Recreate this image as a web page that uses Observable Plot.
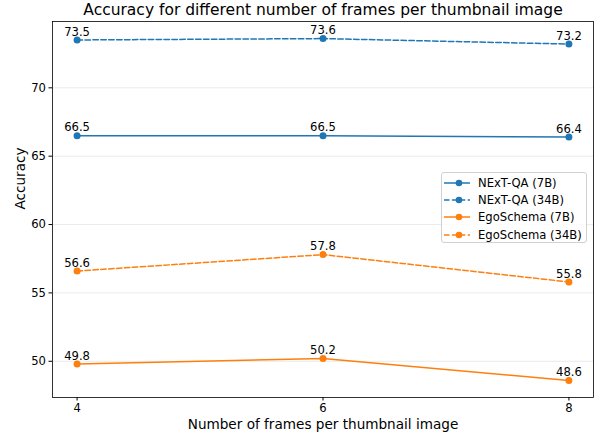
<!DOCTYPE html>
<html>
<head>
<meta charset="utf-8">
<script src="https://cdn.jsdelivr.net/npm/d3@7"></script>
<script src="https://cdn.jsdelivr.net/npm/@observablehq/plot@0.6"></script>
<style>
  html, body { margin: 0; padding: 0; background: #fff; }
  #wrap { position: relative; width: 601px; height: 433px; font-family: "DejaVu Sans", sans-serif; }
  #legend { position: absolute; left: 441px; top: 172px; width: 146px; height: 71px; border: 1px solid #d0d0d0; border-radius: 3px; background: rgba(255,255,255,0.8); box-sizing: border-box; padding-top: 1px; }
  .row { height: 17.4px; display: flex; align-items: center; font-size: 11.6px; color: #000; white-space: nowrap; }
  .row svg { margin-left: 1px; margin-right: 7px; }
</style>
</head>
<body>
<div id="wrap"></div>
<script>
const titleText = "Accuracy for different number of frames per thumbnail image";
const xLabel = "Number of frames per thumbnail image";
const yLabel = "Accuracy";
const frames = [4, 6, 8];
const yTicks = [50, 55, 60, 65, 70];
const seriesNames = ["NExT-QA (7B)", "NExT-QA (34B)", "EgoSchema (7B)", "EgoSchema (34B)"];
const seriesColors = ["#1f77b4", "#1f77b4", "#ff7f0e", "#ff7f0e"];
const seriesDashed = [false, true, false, true];
const nextqa7b = [66.5, 66.5, 66.4];
const nextqa34b = [73.5, 73.6, 73.2];
const ego7b = [49.8, 50.2, 48.6];
const ego34b = [56.6, 57.8, 55.8];
const seriesValues = [nextqa7b, nextqa34b, ego7b, ego34b];

const data = [];
seriesNames.forEach((s, i) => {
  frames.forEach((f, j) => data.push({series: s, idx: i, frames: f, acc: seriesValues[i][j]}));
});

const lineMarks = seriesNames.map((s, i) =>
  Plot.line(data.filter(d => d.series === s), {
    x: "frames", y: "acc", stroke: seriesColors[i], strokeWidth: 1.5,
    strokeDasharray: seriesDashed[i] ? "5.5,2.4" : null
  })
);

const chart = Plot.plot({
  width: 601,
  height: 433,
  marginLeft: 52,
  marginRight: 8,
  marginTop: 21,
  marginBottom: 36,
  style: {fontFamily: "DejaVu Sans, sans-serif", fontSize: "11.6px", color: "#000", background: "#fff", overflow: "visible"},
  x: {domain: [3.8, 8.2]},
  y: {domain: [47.35, 74.85]},
  marks: [
    Plot.gridY(yTicks, {stroke: "#e6e6e6", strokeOpacity: 1, strokeWidth: 0.8}),
    ...lineMarks,
    Plot.dot(data, {x: "frames", y: "acc", r: 3.5, fill: d => seriesColors[d.idx], stroke: "none"}),
    Plot.text(data, {x: "frames", y: "acc", text: d => d.acc.toFixed(1), dy: -8, lineAnchor: "middle", fill: "#000", fontSize: 11.6}),
    Plot.frame({stroke: "#000", strokeWidth: 0.8}),
    Plot.axisX(frames, {tickSize: 3.5, tickPadding: 3, tickFormat: d => String(d), label: null}),
    Plot.axisY(yTicks, {tickSize: 3.5, tickPadding: 3, label: null}),
    Plot.text([xLabel], {frameAnchor: "bottom", lineAnchor: "middle", dy: 27, fontSize: 13.6, fill: "#000"}),
    Plot.text([yLabel], {frameAnchor: "left", lineAnchor: "middle", rotate: -90, dx: -32, fontSize: 13.6, fill: "#000"}),
    Plot.text([titleText], {frameAnchor: "top", lineAnchor: "middle", dy: -11, fontSize: 15.5, fill: "#000"})
  ]
});

const wrap = document.getElementById("wrap");
wrap.appendChild(chart);

const legend = document.createElement("div");
legend.id = "legend";
seriesNames.forEach((s, i) => {
  const row = document.createElement("div");
  row.className = "row";
  const dash = seriesDashed[i] ? 'stroke-dasharray="5.5,2.4"' : "";
  row.innerHTML = `<svg width="28" height="10"><line x1="1" x2="27" y1="5" y2="5" stroke="${seriesColors[i]}" stroke-width="1.5" ${dash}/><circle cx="16" cy="5" r="3.3" fill="${seriesColors[i]}"/></svg><span>${s}</span>`;
  legend.appendChild(row);
});
wrap.appendChild(legend);
</script>
</body>
</html>
